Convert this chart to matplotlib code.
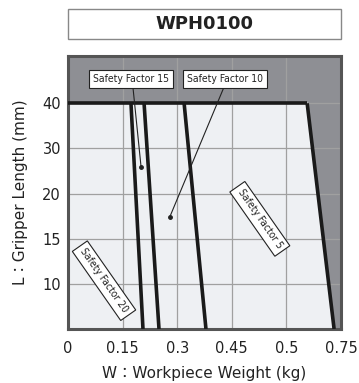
import matplotlib
matplotlib.use("Agg")
import matplotlib.pyplot as plt
import numpy as np
from matplotlib.patches import Rectangle

# gripper length axis (category-like, evenly spaced)
length_labels = ["10", "15", "20", "30", "40"]
length_pos = [1, 2, 3, 4, 5]

# weight axis
weight_ticks = [0, 0.15, 0.3, 0.45, 0.6, 0.75]
weight_labels = ["0", "0.15", "0.3", "0.45", "0.5", "0.75"]

# limit lines: weight at L=40 (top) and at the bottom of the chart
factors = ["20", "15", "10", "5"]
w_top = [0.173, 0.209, 0.319, 0.657]
w_bottom = [0.206, 0.250, 0.379, 0.731]

light = "#eef0f3"
dark = "#8e8f94"
grid_c = "#a0a0a0"
cjk = ["DejaVu Sans", "Noto Sans CJK JP"]

fig = plt.figure(figsize=(3.59, 3.83), dpi=100)
ax = fig.add_axes([0.1894, 0.141, 0.7605, 0.713])
ax.set_xlim(0, 0.75)
ax.set_ylim(0, 6.05)
ax.set_facecolor(dark)

# allowable area
ax.fill([0, 0, w_top[-1], w_bottom[-1]], [0, 5, 5, 0], color=light, zorder=0)

ax.set_xticks(weight_ticks)
ax.set_xticklabels(weight_labels)
ax.set_yticks(length_pos)
ax.set_yticklabels(length_labels)
ax.grid(True, color=grid_c, lw=0.9, zorder=1)
ax.tick_params(length=0, labelsize=10.5, colors="#222222")
ax.tick_params(axis="x", pad=9)
ax.tick_params(axis="y", pad=5)
for s in ax.spines.values():
    s.set_color("#555555")
    s.set_linewidth(2.2)

# thick lines
ax.plot([0, w_top[-1]], [5, 5], color="#1a1a1a", lw=2.6, zorder=3,
        solid_capstyle="butt")
for wt, wb in zip(w_top, w_bottom):
    ax.plot([wt, wb], [5, 0], color="#1a1a1a", lw=2.6, zorder=3,
            solid_capstyle="butt")

box = dict(boxstyle="square,pad=0.4", fc="white", ec="#222222", lw=0.8)
lab_font = dict(fontsize=7.5, family="DejaVu Sans", fontstretch="condensed",
                color="#222222")

# leader lines with dots
ax.plot([0.179, 0.2006], [5.31, 3.6], color="#222222", lw=0.8, zorder=4)
ax.plot([0.2006], [3.6], "o", color="#222222", ms=2.5, zorder=4)
ax.plot([0.426, 0.280], [5.31, 2.49], color="#222222", lw=0.8, zorder=4)
ax.plot([0.280], [2.49], "o", color="#222222", ms=2.5, zorder=4)

ax.text(0.173, 5.54, "Safety Factor " + factors[1], ha="center", va="center",
        bbox=box, zorder=5, **lab_font)
ax.text(0.431, 5.54, "Safety Factor " + factors[2], ha="center", va="center",
        bbox=box, zorder=5, **lab_font)
ax.text(0.527, 2.44, "Safety Factor " + factors[3], ha="center", va="center",
        rotation=-55, rotation_mode="anchor", bbox=box, zorder=5, **lab_font)
ax.text(0.099, 1.07, "Safety Factor " + factors[0], ha="center", va="center",
        rotation=-55, rotation_mode="anchor", bbox=box, zorder=5, **lab_font)

ax.set_xlabel("W：Workpiece Weight (kg)", fontsize=11, family=cjk,
              color="#222222", labelpad=7)
ax.set_ylabel("L：Gripper Length (mm)", fontsize=11, family=cjk,
              color="#222222", labelpad=10)

# title box
fig.patches.append(Rectangle((0.1894, 1 - 39 / 383), 0.7605, 30 / 383,
                             transform=fig.transFigure, fc="white",
                             ec="#888888", lw=1.0))
fig.text(0.1894 + 0.7605 / 2, 1 - 24 / 383, "WPH0100", ha="center",
         va="center", fontsize=13, fontweight="bold", color="#222222")

fig.savefig("out.png", dpi=100)
